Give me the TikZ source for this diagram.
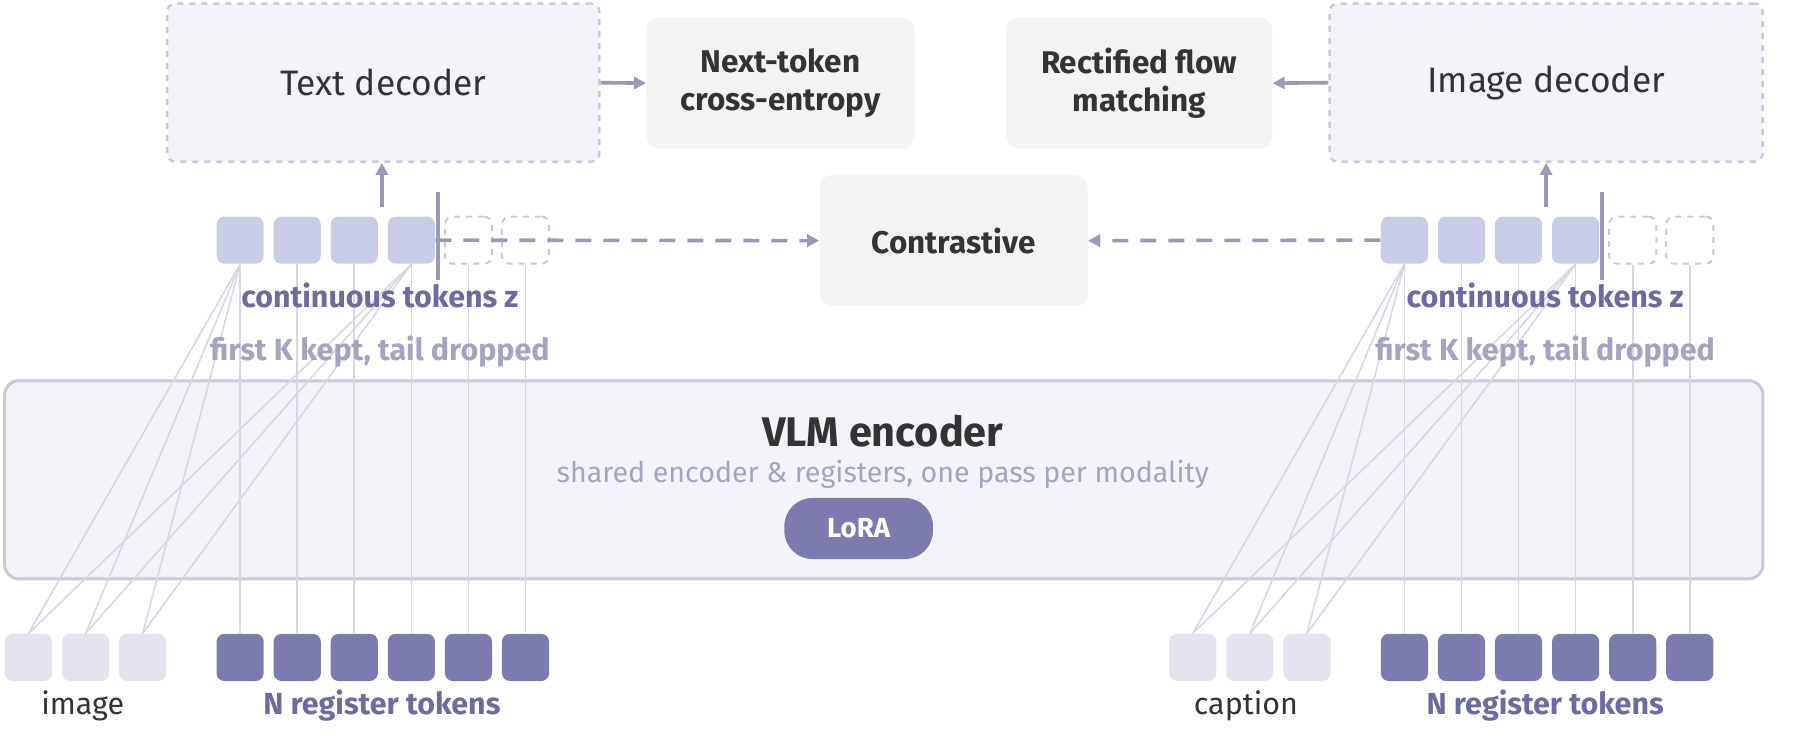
\documentclass[tikz,border=0pt]{standalone}
\usepackage{fontspec}
\setmainfont{Fira Sans}
\usetikzlibrary{positioning,arrows.meta}
\definecolor{darkreg}{HTML}{7B7BB0}
\definecolor{lighttok}{HTML}{C9CCE7}
\definecolor{imgtok}{HTML}{E3E3EE}
\definecolor{encfill}{HTML}{F3F4F9}
\definecolor{encline}{HTML}{C8C8D8}
\definecolor{lossfill}{HTML}{F3F3F3}
\definecolor{inkdark}{HTML}{333333}
\definecolor{labpurple}{HTML}{6B6BA3}
\definecolor{labgrey}{HTML}{A3A3C2}
\definecolor{arrowc}{HTML}{9A9AB8}
\definecolor{wire}{HTML}{D6D6E4}
\tikzset{
  tok/.style={rectangle,rounded corners=4pt,minimum width=23.6pt,minimum height=23.6pt,inner sep=0pt},
  ztok/.style={tok,fill=lighttok},
  droptok/.style={tok,draw=encline,dashed,line width=1pt},
  regtok/.style={tok,fill=darkreg},
  imtok/.style={tok,fill=imgtok},
  decbox/.style={rectangle,rounded corners=4pt,draw=encline,dashed,line width=1.2pt,fill=encfill,inner sep=0pt,font=\fontsize{17.7}{21}\selectfont,text=inkdark},
  lossbox/.style={rectangle,rounded corners=6pt,fill=lossfill,inner sep=0pt,align=center,font=\fontsize{15.7}{19}\selectfont\bfseries,text=inkdark},
  wirel/.style={wire,line width=0.8pt},
  flow/.style={arrowc,line width=1.8pt,-{Triangle[length=6pt,width=6pt]}},
  dflow/.style={flow,dash pattern=on 8pt off 6pt},
  tlab/.style={font=\fontsize{15.2}{18}\selectfont\bfseries},
}
\begin{document}
\begin{tikzpicture}[x=0.492pt,y=-0.492pt]
\useasboundingbox (0,0) rectangle (1829,757);
% encoder
\node[rectangle,rounded corners=7pt,draw=encline,line width=1.5pt,fill=encfill,minimum width=879pt,minimum height=99pt,inner sep=0pt] (enc) at (898,487.5) {};
\node[font=\fontsize{20.7}{25}\selectfont\bfseries,text=inkdark] (enctitle) at (897,438) {VLM encoder};
\node[font=\fontsize{14.3}{17}\selectfont,text=labgrey] (encsub) at (897,482) {shared encoder \& registers, one pass per modality};
\node[rectangle,rounded corners=14pt,fill=darkreg,minimum width=74.3pt,minimum height=30.5pt,text=white,font=\fontsize{13.8}{17}\selectfont\bfseries] (lora) at (872.5,537) {LoRA};
% decoders and losses
\node[decbox,minimum width=216pt,minimum height=79pt] (tdec) at (389.5,84) {Text decoder};
\node[decbox,minimum width=216.5pt,minimum height=79pt] (idec) at (1571,84) {Image decoder};
\node[lossbox,minimum width=134pt,minimum height=65.5pt] (ntce) at (793,84.5) {Next-token\\cross-entropy};
\node[lossbox,minimum width=133pt,minimum height=65.5pt] (rfm) at (1157.5,84.5) {Rectified flow\\matching};
\node[lossbox,minimum width=134pt,minimum height=65.5pt] (con) at (969,244.5) {Contrastive};
% token rows
\foreach \s/\side/\im in {220/L/5,1403/R/1188}{
  \foreach \i in {1,...,4}
    \node[ztok] (z\side\i) at ({\s+24+58*(\i-1)},244) {};
  \foreach \i in {5,6}
    \node[droptok] (z\side\i) at ({\s+24+58*(\i-1)},244) {};
  \foreach \i in {1,...,6}
    \node[regtok] (r\side\i) at ({\s+24+58*(\i-1)},668) {};
  \foreach \i in {1,...,3}
    \node[imtok] (m\side\i) at ({\im+24+58*(\i-1)},668) {};
  % wires
  \foreach \i in {1,...,6}
    \draw[wirel] (r\side\i.north) -- (z\side\i.south);
  \foreach \i in {1,...,3}{
    \draw[wirel] (m\side\i.north) -- (z\side1.south);
    \draw[wirel] (m\side\i.north) -- (z\side4.south);
  }
  \coordinate (cut\side a) at ({\s+225},195);
  \coordinate (cut\side b) at ({\s+225},284);
  \draw[arrowc,line width=1.8pt] (cut\side a) -- (cut\side b);
  \coordinate (up\side) at ({\s+168},210);
}
\node[tlab,text=labpurple] (zlabL) at (386,300) {continuous tokens z};
\node[tlab,text=labgrey] (keepL) at (386,357) {first K kept, tail dropped};
\node[tlab,text=labpurple] (zlabR) at (1570,300) {continuous tokens z};
\node[tlab,text=labgrey] (keepR) at (1570,357) {first K kept, tail dropped};
\node[font=\fontsize{15.2}{18}\selectfont,text=inkdark] (imlab) at (84,717) {image};
\node[tlab,text=labpurple] (nregL) at (388,717) {N register tokens};
\node[font=\fontsize{15.2}{18}\selectfont,text=inkdark] (caplab) at (1266,717) {caption};
\node[tlab,text=labpurple] (nregR) at (1570,717) {N register tokens};
% arrows
\draw[flow] (upL) -- (upL |- tdec.south);
\draw[flow] (upR) -- (upR |- idec.south);
\draw[flow] (tdec.east) -- (ntce.west);
\draw[flow] (idec.west) -- (rfm.east);
\draw[dflow] (zL4.east) -- (con.west);
\draw[dflow] (zR1.west) -- (con.east);
\end{tikzpicture}
\end{document}
